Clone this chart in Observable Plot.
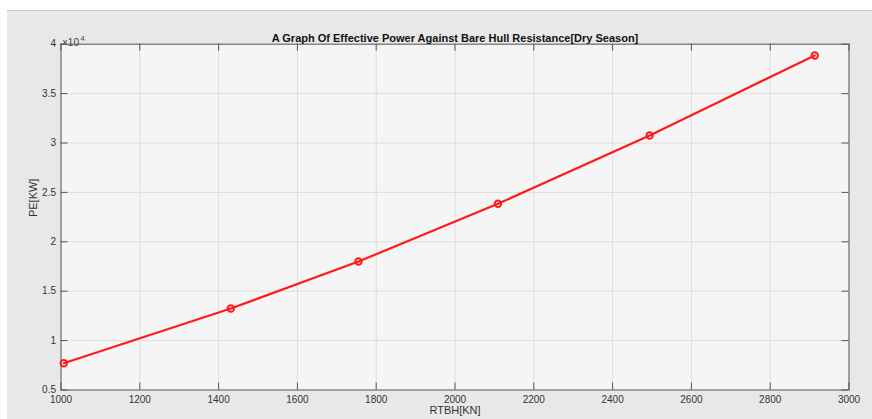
<!DOCTYPE html>
<html>
<head>
<meta charset="utf-8">
<script src="https://cdn.jsdelivr.net/npm/d3@7"></script>
<script src="https://cdn.jsdelivr.net/npm/@observablehq/plot@0.6"></script>
<style>
  html, body { margin: 0; padding: 0; background: #ffffff; }
  #chart {
    width: 872px; height: 419px;
    background:
      linear-gradient(to right, #ffffff 0 7px, transparent 7px),
      linear-gradient(to bottom, #ffffff 0 10px, #c9c9c9 10px 11px, #e8e8e8 11px);
  }
  #chart svg { display: block; }
</style>
</head>
<body>
<div id="chart"></div>
<script>
// Data
const rtbh = [1007, 1431, 1755, 2109, 2494, 2913];      // RTBH [KN]
const pe   = [7710, 13250, 18000, 23850, 30760, 38860]; // PE [KW]
const xTicks = [1000, 1200, 1400, 1600, 1800, 2000, 2200, 2400, 2600, 2800, 3000];
const yTicks = [5000, 10000, 15000, 20000, 25000, 30000, 35000, 40000];
const titleText = "A Graph Of Effective Power Against Bare Hull Resistance[Dry Season]";
const xLabel = "RTBH[KN]";
const yLabel = "PE[KW]";
const exponentBase = "×10";
const exponentPower = "4";

const data = rtbh.map((x, i) => ({x, y: pe[i]}));

const W = 872, H = 419;
const mL = 60.5, mR = 23.5, mT = 43.7, mB = 29.5;
const pw = W - mL - mR, ph = H - mT - mB;
const tick = 7;
const font = "Liberation Sans, Arial, Helvetica, sans-serif";

const chart = Plot.plot({
  width: W,
  height: H,
  marginLeft: mL, marginRight: mR, marginTop: mT, marginBottom: mB,
  style: {background: "transparent", fontFamily: font, fontSize: "10px", color: "#333"},
  x: {domain: [1000, 3000], axis: null},
  y: {domain: [5000, 40000], axis: null},
  marks: [
    Plot.frame({fill: "#f5f5f5", stroke: null}),
    Plot.gridX(xTicks, {stroke: "#dedede", strokeOpacity: 1, strokeWidth: 1}),
    Plot.gridY(yTicks, {stroke: "#dedede", strokeOpacity: 1, strokeWidth: 1}),
    Plot.frame({stroke: "#707070", strokeWidth: 1.2}),
    // inward ticks (bottom, top, left, right)
    Plot.ruleX(xTicks, {stroke: "#555", insetTop: ph - tick}),
    Plot.ruleX(xTicks, {stroke: "#555", insetBottom: ph - tick}),
    Plot.ruleY(yTicks, {stroke: "#555", insetRight: pw - tick}),
    Plot.ruleY(yTicks, {stroke: "#555", insetLeft: pw - tick}),
    // tick labels
    Plot.axisX(xTicks, {tickSize: 0, tickPadding: 6, fill: "#333", fontSize: 10, label: null, tickFormat: d => String(d)}),
    Plot.axisY(yTicks, {tickSize: 0, tickPadding: 5, fill: "#333", fontSize: 10, label: null, tickFormat: d => String(d / 1e4)}),
    // data
    Plot.line(data, {x: "x", y: "y", stroke: "#ff1a1a", strokeWidth: 2.2}),
    Plot.dot(data, {x: "x", y: "y", r: 3.2, stroke: "#ff1a1a", strokeWidth: 2, fill: "none"}),
    // texts
    Plot.text([titleText], {frameAnchor: "top", dy: -10, text: d => d, fontWeight: "bold", fontSize: 11, fill: "#111"}),
    Plot.text([exponentBase], {frameAnchor: "top-left", textAnchor: "start", dx: 1, dy: -5, text: d => d, fontSize: 10, fill: "#444"}),
    Plot.text([exponentPower], {frameAnchor: "top-left", textAnchor: "start", dx: 19.5, dy: -9, text: d => d, fontSize: 7.5, fill: "#444"}),
    Plot.text([xLabel], {frameAnchor: "bottom", dy: 24, text: d => d, fontSize: 11, fill: "#333"}),
    Plot.text([yLabel], {frameAnchor: "left", dx: -28, rotate: -90, text: d => d, fontSize: 11, fill: "#333"})
  ]
});
document.getElementById("chart").appendChild(chart);
</script>
</body>
</html>
